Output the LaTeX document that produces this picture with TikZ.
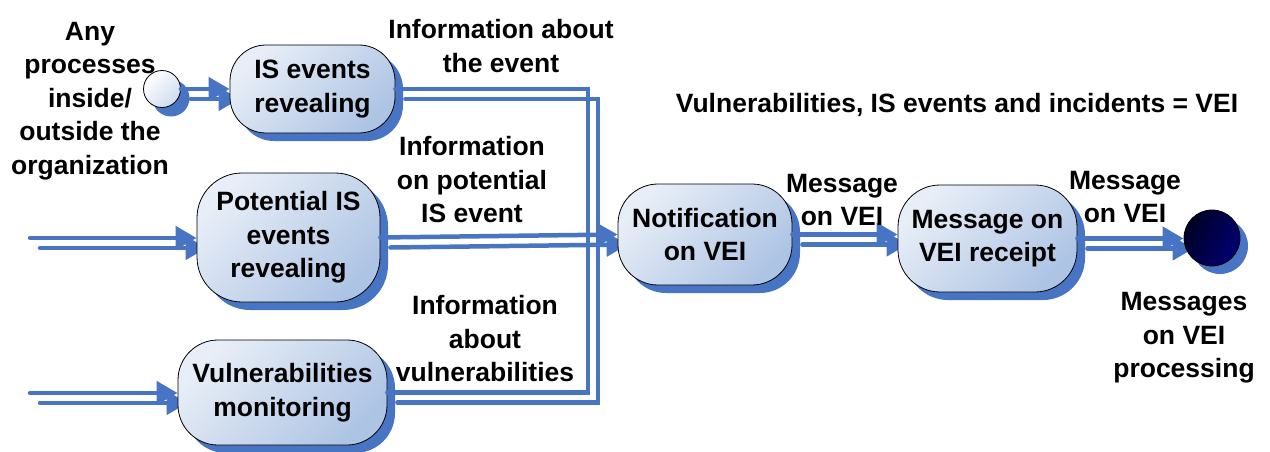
\documentclass[tikz,border=0pt]{standalone}
\usepackage{fontspec}
\setmainfont{Liberation Sans}
\usetikzlibrary{arrows.meta,shadows,backgrounds}
\definecolor{lb}{RGB}{71,117,196}
\definecolor{nl}{RGB}{232,238,247}
\definecolor{nd}{RGB}{174,196,228}
\definecolor{navyA}{RGB}{0,0,35}
\definecolor{navyB}{RGB}{0,0,115}
\begin{document}
\begin{tikzpicture}[x=1pt,y=-1pt,
  txt/.style={font=\bfseries\fontsize{26.5}{33.5}\selectfont},
  box/.style={txt, draw=black, line width=0.8pt, top color=nl, bottom color=nd, shading angle=45,
    align=center, inner sep=0pt, rectangle,
    drop shadow={shadow xshift=8pt, shadow yshift=-8pt, fill=lb, opacity=1}},
  lbl/.style={txt, align=center, inner sep=0pt},
  conn/.style={draw=lb, line width=4.5pt, line cap=round, -{Triangle[length=21pt,width=23pt]}},
  plain/.style={draw=lb, line width=4.5pt, line cap=round},
  sd/.style={shift={(10,10)}}
]
\useasboundingbox (0,0) rectangle (1270,452);

% nodes
\node[circle, draw=black, line width=0.8pt, minimum size=37pt, inner sep=0pt,
  top color=white, bottom color=nd!60, shading angle=45,
  drop shadow={shadow xshift=9pt, shadow yshift=-9pt, fill=lb, opacity=1}] (st) at (162,89) {};
\node[box, minimum width=165pt, minimum height=88pt, rounded corners=36pt] (is) at (312.5,89) {IS events\\revealing};
\node[box, minimum width=183pt, minimum height=129pt, rounded corners=45pt] (pot) at (288.5,237.5) {Potential IS\\events\\revealing};
\node[box, minimum width=209pt, minimum height=105pt, rounded corners=40pt] (vul) at (282.5,392.5) {Vulnerabilities\\monitoring};
\node[box, minimum width=174pt, minimum height=101pt, rounded corners=40pt] (notif) at (705,234.5) {Notification\\on VEI};
\node[box, minimum width=179pt, minimum height=107pt, rounded corners=42pt] (msg) at (987.5,238.5) {Message on\\VEI receipt};
\node[circle, draw=black, line width=0.8pt, minimum size=56pt, inner sep=0pt,
  top color=navyA, bottom color=navyB, shading angle=60,
  drop shadow={shadow xshift=8pt, shadow yshift=-8pt, fill=lb, opacity=1}] (en) at (1212,238) {};

\coordinate (i1) at (30,238);
\coordinate (i2) at (30,393);
\coordinate (j) at (588,236);

% connector shadows
\begin{scope}[on background layer]
  \draw[conn] ([sd]st.east) -- ([sd]is.west);
  \draw[conn] ([sd]i1) -- ([sd]i1 -| pot.west);
  \draw[conn] ([sd]i2) -- ([sd]i2 -| vul.west);
  \draw[plain] ([sd]is.east) -| ([sd]j);
  \draw[plain] ([sd]vul.east) -| ([sd]j);
  \draw[conn] ([sd]pot.east) -- ([sd]notif.west);
  \draw[conn] ([sd]notif.east) -- ([sd]notif.east -| msg.west);
  \draw[conn] ([sd]msg.east) -- ([sd]msg.east -| en.west);
\end{scope}

% connectors
\draw[conn] (st.east) -- (is.west);
\draw[conn] (i1) -- (i1 -| pot.west);
\draw[conn] (i2) -- (i2 -| vul.west);
\draw[plain] (is.east) -| (j);
\draw[plain] (vul.east) -| (j);
\draw[conn] (pot.east) -- (notif.west);
\draw[conn] (notif.east) -- (notif.east -| msg.west);
\draw[conn] (msg.east) -- (msg.east -| en.west);

% labels
\node[lbl] (l0) at (90,101) {Any\\processes\\inside/\\outside the\\organization};
\node[lbl] (l1) at (501,46) {Information about\\the event};
\node[lbl] (l2) at (472,180) {Information\\on potential\\IS event};
\node[lbl] (l3) at (485,339) {Information\\about\\vulnerabilities};
\node[lbl] (l4) at (842,200) {Message\\on VEI};
\node[lbl] (l5) at (1125,197) {Message\\on VEI};
\node[lbl] (l6) at (1184,338) {Messages\\on VEI\\processing};
\node[lbl] (t) at (957,105) {Vulnerabilities, IS events and incidents = VEI};
\end{tikzpicture}
\end{document}
